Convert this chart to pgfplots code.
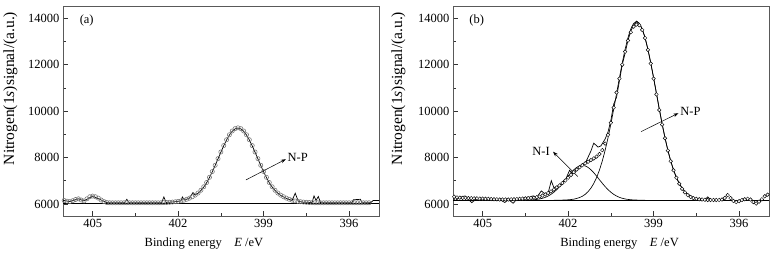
\documentclass[border=0pt]{standalone}
\usepackage{fontspec}
\setmainfont{Liberation Serif}
\usepackage{pgfplots}
\pgfplotsset{compat=1.18}
\usetikzlibrary{arrows.meta}
\pgfplotsset{
  xps/.style={
    width=316pt, height=210pt, scale only axis,
    anchor=south west,
    x dir=reverse, xmin=394.95, xmax=406.04, ymin=5480, ymax=14530,
    xtick={396,399,402,405}, minor xtick={397.5,400.5,403.5},
    ytick={6000,8000,10000,12000,14000}, minor ytick={7000,9000,11000,13000},
    scaled y ticks=false,
    tick align=inside, xtick pos=bottom, ytick pos=left,
    major tick length=5pt, minor tick length=3pt,
    axis line style={black!65, line width=0.6pt},
    every tick/.style={black!80, line width=0.6pt},
    /pgf/number format/assume math mode=true,
    /pgf/number format/set thousands separator={},
    yticklabel style={/pgf/number format/fixed},
    tick label style={font=\fontsize{12.5}{15}\selectfont, black},
    ylabel={Nitrogen(1\textit{s})signal/(a.u.)},
    xlabel={Binding energy\hspace{1em}\textit{E} /eV},
    ylabel style={font=\fontsize{15.5}{18}\selectfont, anchor=center},
    xlabel style={font=\fontsize{12.5}{15}\selectfont, anchor=center},
    clip=true,
  },
  fitline/.style={black, line width=0.65pt, no marks},
  rawline/.style={black, line width=0.7pt, no marks},
}
\begin{document}
\begin{tikzpicture}
\useasboundingbox (0,0) rectangle (781pt,257pt);
% ---------------- panel (a)
\begin{axis}[xps, at={(63pt,41pt)},
  ylabel style={at={(axis description cs:-0.166,0.607)}},
  xlabel style={at={(axis description cs:0.446,-0.13)}}]
\addplot[fitline] coordinates {(406.04,6030) (394.95,6030)};
\addplot[rawline] coordinates {
(406.04,6140)(406.0,6150)(405.8,6100)(405.5,6220)(405.3,6130)(405.0,6340)(404.7,6170)
(404.5,6060)(404.4,6050)(403.88,6050)(403.8,6200)(403.72,6050)(402.58,6055)(402.5,6300)
(402.42,6062)(402.0,6110)(401.9,6130)(401.85,6300)(401.78,6170)(401.6,6250)(401.48,6490)
(401.4,6380)(401.3,6460)(401.2,6580)(401.1,6730)(401.0,6913)(400.9,7136)(400.8,7386)
(400.7,7657)(400.6,7942)(400.5,8229)(400.4,8505)(400.3,8757)(400.2,8971)(400.1,9133)
(400.0,9235)(399.9,9270)(399.8,9235)(399.7,9133)(399.6,8971)(399.5,8757)(399.4,8505)
(399.3,8229)(399.2,7942)(399.1,7657)(399.0,7386)(398.9,7136)(398.8,6913)(398.7,6730)
(398.6,6580)(398.5,6460)(398.4,6370)(398.3,6300)(398.2,6240)(398.1,6190)(398.0,6150)
(397.89,6460)(397.78,6110)(397.6,6075)(397.3,6060)(397.23,6345)(397.16,6150)(397.08,6320)
(397.0,6050)(395.9,6050)(395.85,6180)(395.6,6200)(395.55,6050)(395.25,6050)(395.15,6150)
(394.95,6150)};
\addplot[only marks, mark=o, mark size=2.1pt, mark options={draw=black!55, line width=0.55pt}] coordinates {
(406.0,6150)(405.9,6120)(405.8,6100)(405.7,6140)(405.6,6190)(405.5,6220)(405.4,6170)
(405.3,6130)(405.2,6220)(405.1,6310)(405.0,6340)(404.9,6310)(404.8,6250)(404.7,6170)
(404.6,6100)(404.5,6060)(404.4,6050)(404.3,6050)(404.2,6050)(404.1,6050)(404.0,6050)
(403.9,6050)(403.8,6050)(403.7,6050)(403.6,6050)(403.5,6050)(403.4,6050)(403.3,6050)
(403.2,6050)(403.1,6050)(403.0,6050)(402.9,6050)(402.8,6050)(402.7,6050)(402.6,6050)
(402.5,6056)(402.4,6062)(402.3,6070)(402.2,6080)(402.1,6095)(402.0,6110)(401.9,6130)
(401.8,6160)(401.7,6200)(401.6,6250)(401.5,6310)(401.4,6380)(401.3,6470)(401.2,6590)
(401.1,6740)(401.0,6923)(400.9,7146)(400.8,7396)(400.7,7667)(400.6,7952)(400.5,8239)
(400.4,8515)(400.3,8767)(400.2,8981)(400.1,9143)(400.0,9245)(399.9,9280)(399.8,9245)
(399.7,9143)(399.6,8981)(399.5,8767)(399.4,8515)(399.3,8239)(399.2,7952)(399.1,7667)
(399.0,7396)(398.9,7146)(398.8,6923)(398.7,6740)(398.6,6590)(398.5,6470)(398.4,6380)
(398.3,6310)(398.2,6250)(398.1,6200)(398.0,6160)(397.9,6130)(397.8,6110)(397.7,6095)
(397.6,6080)(397.5,6070)(397.4,6062)(397.3,6056)(397.2,6050)(397.1,6050)(397.0,6050)
(396.9,6050)(396.8,6050)(396.7,6050)(396.6,6050)(396.5,6050)(396.4,6050)(396.3,6050)
(396.2,6050)(396.1,6050)(396.0,6050)(395.9,6050)(395.8,6050)(395.7,6050)(395.6,6050)
(395.5,6050)(395.4,6050)(395.3,6050)};
\node[font=\fontsize{12.5}{15}\selectfont] at (axis description cs:0.075,0.93) {(a)};
\draw[black, line width=0.5pt, -{Stealth[length=5pt,width=3.5pt]}] (axis cs:399.62,7034) -- (axis cs:398.22,7927);
\node[font=\fontsize{12.5}{15}\selectfont, anchor=west, inner sep=1pt] at (axis cs:398.2,8000) {N-P};
\end{axis}
% ---------------- panel (b)
\begin{axis}[xps, at={(453pt,41pt)},
  ylabel style={at={(axis description cs:-0.1725,0.607)}},
  xlabel style={at={(axis description cs:0.527,-0.13)}}]
\addplot[fitline] coordinates {(406.04,6160) (394.95,6160)};
\addplot[fitline] coordinates {
(402.5,6160)(402.4,6161)(402.3,6163)(402.2,6166)(402.1,6171)(402.0,6178)(401.9,6189)
(401.8,6207)(401.7,6234)(401.6,6274)(401.5,6332)(401.4,6414)(401.3,6528)(401.2,6680)
(401.1,6881)(401.0,7138)(400.9,7460)(400.8,7852)(400.7,8314)(400.6,8847)(400.5,9443)
(400.4,10085)(400.3,10758)(400.2,11431)(400.1,12078)(400.0,12667)(399.9,13164)(399.8,13543)
(399.7,13779)(399.6,13860)(399.5,13779)(399.4,13543)(399.3,13164)(399.2,12667)(399.1,12078)
(399.0,11431)(398.9,10758)(398.8,10085)(398.7,9443)(398.6,8847)(398.5,8314)(398.4,7852)
(398.3,7460)(398.2,7138)(398.1,6881)(398.0,6680)(397.9,6528)(397.8,6414)(397.7,6332)
(397.6,6274)(397.5,6234)(397.4,6207)(397.3,6189)(397.2,6178)(397.1,6171)(397.0,6166)
(396.9,6163)(396.8,6160)};
\addplot[fitline] coordinates {
(403.7,6160)(403.6,6160)(403.5,6164)(403.4,6167)(403.3,6173)(403.2,6181)(403.1,6195)
(403.0,6215)(402.9,6244)(402.8,6285)(402.7,6340)(402.6,6413)(402.5,6505)(402.4,6616)
(402.3,6745)(402.2,6890)(402.1,7043)(402.0,7199)(401.9,7345)(401.8,7474)(401.7,7574)
(401.6,7638)(401.5,7660)(401.4,7638)(401.3,7574)(401.2,7474)(401.1,7345)(401.0,7199)
(400.9,7043)(400.8,6890)(400.7,6745)(400.6,6616)(400.5,6505)(400.4,6413)(400.3,6340)
(400.2,6285)(400.1,6244)(400.0,6215)(399.9,6195)(399.8,6181)(399.7,6173)(399.6,6167)
(399.5,6164)(399.4,6160)(399.3,6160)};
\addplot[rawline] coordinates {
(406.04,6250)(405.97,6140)(405.8,6280)(405.62,6345)(405.5,6200)(405.38,6055)(405.2,6240)
(404.8,6220)(404.4,6190)(404.22,6060)(404.1,6190)(403.93,6030)(403.8,6200)(403.5,6240)
(403.23,6345)(403.1,6290)(402.94,6560)(402.8,6420)(402.7,6480)(402.59,7000)(402.5,6700)
(402.3,6820)(402.1,7020)(401.95,7450)(401.85,7300)(401.6,7580)(401.4,7750)(401.2,8280)
(401.1,8620)(400.95,8450)(400.85,8500)(400.7,8800)(400.6,9100)(400.5,9600)(400.4,10300)
(400.3,10600)(400.2,11300)(400.1,12000)(400.0,12500)(399.9,13050)(399.8,13450)(399.7,13700)
(399.6,13880)(399.5,13780)(399.4,13540)(399.3,13160)(399.2,12660)(399.1,12080)(399.0,11430)
(398.9,10760)(398.8,10090)(398.7,9440)(398.6,8850)(398.5,8310)(398.4,7850)(398.3,7460)
(398.2,7140)(398.1,6880)(398.0,6680)(397.9,6530)(397.8,6410)(397.7,6330)(397.6,6270)
(397.5,6230)(397.4,6200)(397.2,6180)(397.1,6300)(397.0,6180)(396.8,6170)};
\addplot[only marks, mark=*, mark size=1.8pt, mark options={draw=black, fill=white, line width=0.45pt}] coordinates {
(406.0,6310)(405.9,6280)(405.8,6270)(405.7,6260)(405.6,6260)(405.5,6250)(405.4,6250)
(405.3,6240)(405.2,6240)(405.1,6230)(405.0,6230)(404.9,6220)(404.8,6220)(404.7,6210)
(404.6,6200)(404.5,6200)(404.4,6190)(404.3,6190)(404.2,6190)(404.1,6190)(404.0,6200)
(403.9,6200)(403.8,6210)(403.7,6220)(403.6,6230)(403.5,6240)(403.4,6250)(403.3,6260)
(403.2,6270)(403.1,6290)(403.0,6320)(402.9,6360)(402.8,6410)(402.7,6470)(402.6,6540)
(402.5,6620)(402.4,6710)(402.3,6800)(402.2,6900)(402.1,7010)(402.0,7130)(401.9,7250)
(401.8,7370)(401.7,7480)(401.6,7580)(401.5,7670)(401.4,7750)(401.3,7820)(401.2,7890)
(401.1,7960)(401.0,8040)(400.9,8150)(400.8,8320)(400.7,8600)(400.6,8980)(400.5,9500)
(400.4,10150)(400.3,10800)(400.2,11400)(400.1,12000)(400.0,12560)(399.9,13040)(399.8,13400)
(399.7,13640)(399.6,13730)(399.5,13700)(399.4,13500)(399.3,13150)(399.2,12640)(399.1,12050)
(399.0,11400)(398.9,10720)(398.8,10050)(398.7,9420)(398.6,8830)(398.5,8300)(398.4,7840)
(398.3,7450)(398.2,7130)(398.1,6870)(398.0,6650)(397.9,6500)(397.8,6380)(397.7,6300)
(397.6,6250)(397.5,6220)(397.4,6200)(397.3,6190)(397.2,6180)(397.1,6170)(397.0,6170)
(396.9,6170)(396.8,6170)(396.7,6170)(396.6,6190)(396.5,6260)(396.4,6380)(396.3,6250)
(396.2,6130)(396.1,6080)(396.0,6120)(395.9,6170)(395.8,6200)(395.7,6220)(395.6,6190)
(395.5,6080)(395.4,6020)(395.3,6100)(395.2,6200)(395.1,6330)(395.0,6400)};
\node[font=\fontsize{12.5}{15}\selectfont] at (axis description cs:0.075,0.93) {(b)};
\draw[black, line width=0.5pt, -{Stealth[length=5pt,width=3.5pt]}] (axis cs:399.44,9116) -- (axis cs:398.13,9910);
\node[font=\fontsize{12.5}{15}\selectfont, anchor=west, inner sep=1pt] at (axis cs:398.1,9980) {N-P};
\draw[black, line width=0.5pt, -{Stealth[length=5pt,width=3.5pt]}] (axis cs:401.66,7180) -- (axis cs:402.53,8250);
\node[font=\fontsize{12.5}{15}\selectfont, anchor=east, inner sep=1pt] at (axis cs:402.6,8250) {N-I};
\end{axis}
\end{tikzpicture}
\end{document}
